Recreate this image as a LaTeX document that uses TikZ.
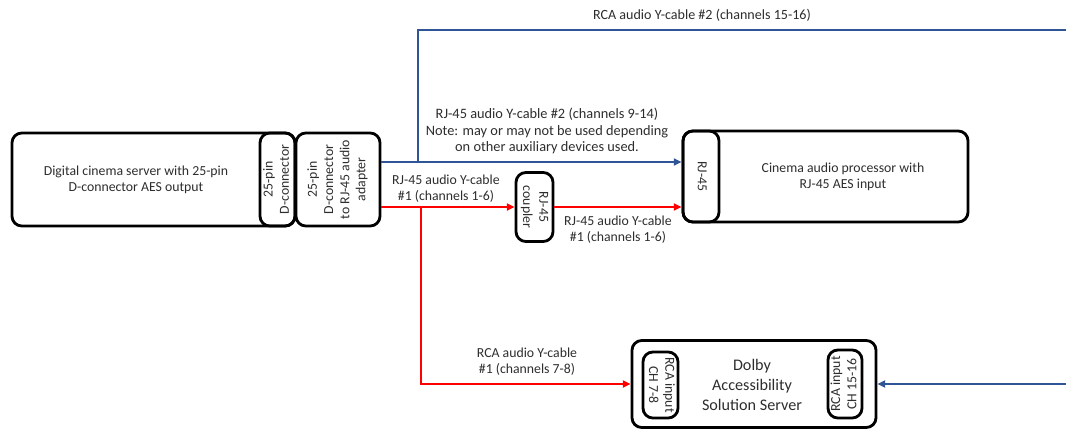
\documentclass[tikz,border=0pt]{standalone}
\usepackage{fontspec}
\usepackage{graphicx}
\setmainfont{Carlito}
\usetikzlibrary{arrows.meta}
\definecolor{cableblue}{RGB}{47,85,151}
\definecolor{cablered}{RGB}{255,0,0}
\definecolor{labelgray}{RGB}{45,45,45}
\newcommand{\vlabel}[2]{\rotatebox{#1}{\begin{tabular}{@{}c@{}}#2\end{tabular}}}

\begin{document}
\begin{tikzpicture}[x = 0.025cm, y = -0.025cm,
                    font = \fontsize{9.8}{11.5}\selectfont, text = labelgray,
                    box/.style = {draw = black, line width = 2pt, rounded corners = 7pt, inner sep = 0pt, align = center},
                    plain/.style = {align = center, inner sep = 0pt},
                    bluecable/.style = {draw = cableblue, line width = 1.5pt},
                    redcable/.style = {draw = cablered, line width = 1.5pt},
                    arr/.style = {-{Triangle[length = 5.5pt, width = 5pt]}}]
      \useasboundingbox (0, 0) rectangle (1066, 429);
      % source side
      \node [box, minimum width = 7.075cm, minimum height = 2.325cm] (server) at (153.5, 179.5){};
      \node [plain] (servertxt) at (136, 180){Digital cinema server with 25-pin\\D-connector AES output};
      \node [box, minimum width = 0.875cm, minimum height = 2.325cm] (dconn) at (277.5, 179.5){\vlabel{90}{25-pin\\D-connector}};
      \node [box, minimum width = 2.1cm, minimum height = 2.325cm] (adapter) at (338, 179.5){\vlabel{90}{25-pin\\D-connector\\to RJ-45 audio\\adapter}};
      \node [box, minimum width = 0.925cm, minimum height = 1.725cm] (coupler) at (534.5, 207){\vlabel{-90}{RJ-45\\coupler}};
      % processor
      \node [box, minimum width = 7.125cm, minimum height = 2.275cm] (proc) at (825.5, 176.5){};
      \node [box, minimum width = 0.9cm, minimum height = 2.275cm] (rj45) at (701, 176.5){\vlabel{-90}{RJ-45}};
      \node [plain] (proctxt) at (843, 177){Cinema audio processor with\\RJ-45 AES input};
      % dolby server
      \node [box, minimum width = 6.1cm, minimum height = 2.175cm] (dolby) at (754, 384){};
      \node [box, minimum width = 0.875cm, minimum height = 1.65cm] (rcaA) at (660.5, 385){\vlabel{-90}{RCA input\\CH 7-8}};
      \node [box, minimum width = 0.85cm, minimum height = 1.7cm] (rcaB) at (845, 384){\vlabel{90}{RCA input\\CH 15-16}};
      \node [plain, font = \fontsize{11.5}{14}\selectfont] (dolbytxt) at (752, 385){Dolby\\Accessibility\\Solution Server};
      % junctions and free ends
      \coordinate (blueY) at (418, 162);
      \coordinate (redY) at (421, 207);
      \coordinate (topend) at (1066, 30);
      \coordinate (botend) at (1066, 384);
      % cables
      \draw [bluecable, arr] (adapter.east |- blueY) -- (proc.west |- blueY);
      \draw [bluecable] (blueY) |- (topend);
      \draw [bluecable, arr] (botend) -- (dolby.east);
      \draw [redcable, arr] (adapter.east |- coupler.west) -- (coupler.west);
      \draw [redcable, arr] (coupler.east) -- (proc.west |- coupler.east);
      \draw [redcable, arr] (redY) |- (dolby.west);
      % cable labels
      \node [plain, font = \fontsize{10}{12}\selectfont] (lblA) at (702, 15){RCA audio Y-cable \#2 (channels 15-16)};
      \node [plain, font = \fontsize{10.2}{11.8}\selectfont] (lblB) at (547, 131){RJ-45 audio Y-cable \#2 (channels 9-14)\\Note: may or may not be used depending\\on other auxiliary devices used.};
      \node [plain] (lblC) at (446, 189){RJ-45 audio Y-cable\\\#1 (channels 1-6)};
      \node [plain] (lblD) at (618, 230){RJ-45 audio Y-cable\\\#1 (channels 1-6)};
      \node [plain] (lblE) at (527, 362){RCA audio Y-cable\\\#1 (channels 7-8)};
    \end{tikzpicture}
\end{document}
